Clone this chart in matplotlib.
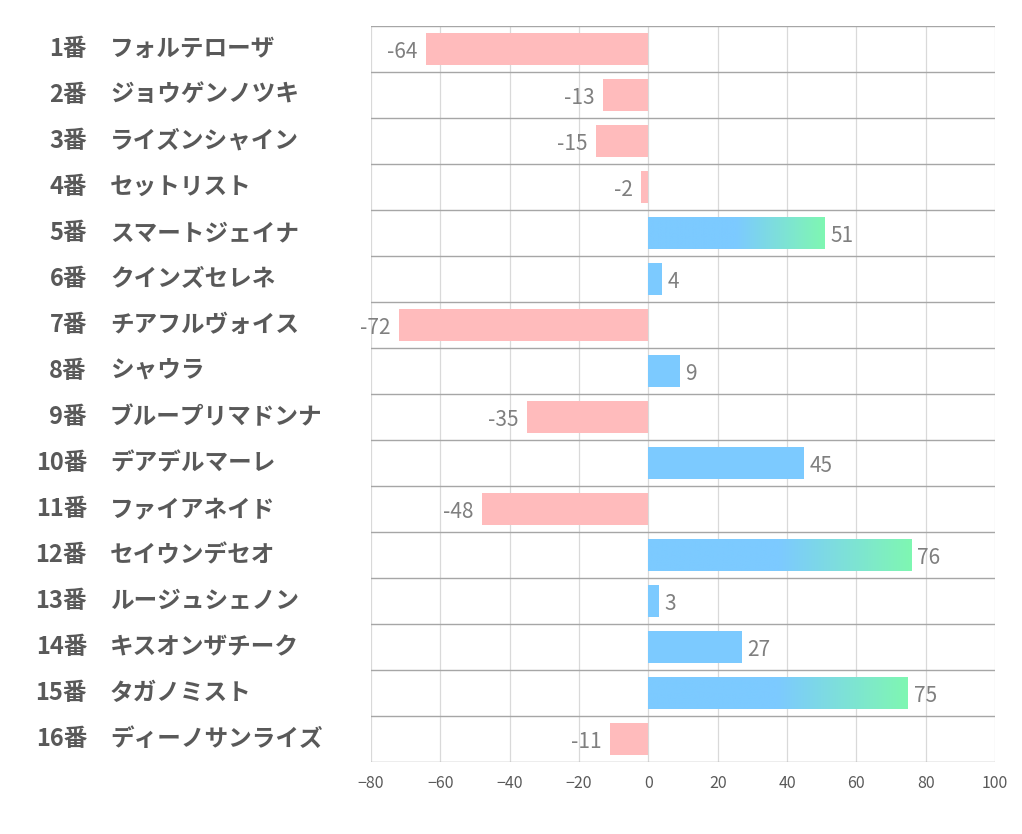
import matplotlib.pyplot as plt
import numpy as np
from matplotlib.colors import LinearSegmentedColormap

plt.rcParams['font.family'] = ['Noto Sans CJK JP', 'DejaVu Sans']

numbers = ['1番', '2番', '3番', '4番', '5番', '6番', '7番', '8番',
           '9番', '10番', '11番', '12番', '13番', '14番', '15番', '16番']
names = ['フォルテローザ', 'ジョウゲンノツキ', 'ライズンシャイン', 'セットリスト',
         'スマートジェイナ', 'クインズセレネ', 'チアフルヴォイス', 'シャウラ',
         'ブループリマドンナ', 'デアデルマーレ', 'ファイアネイド', 'セイウンデセオ',
         'ルージュシェノン', 'キスオンザチーク', 'タガノミスト', 'ディーノサンライズ']
values = [-64, -13, -15, -2, 51, 4, -72, 9, -35, 45, -48, 76, 3, 27, 75, -11]

blue = '#7ccaff'
green = '#7ff7b2'
pink = '#ffbbbc'
grad = LinearSegmentedColormap.from_list('bg', [(0, blue), (0.5, blue), (1, green)])

fig = plt.figure(figsize=(10.22, 8.34), dpi=100)
ax = fig.add_axes([371 / 1022, 1 - 762 / 834, 624 / 1022, 736 / 834])

n = len(values)
ys = np.arange(n)
h = 0.68
for y, v in zip(ys, values):
    if v < 0:
        ax.barh(y, v, height=h, color=pink, zorder=2)
        ax.text(v - 2.5, y + 0.06, str(v), ha='right', va='center',
                fontsize=15, color='#7f7f7f', zorder=3)
    else:
        if v >= 50:
            g = np.linspace(0, 1, 256).reshape(1, -1)
            ax.imshow(g, cmap=grad, extent=[0, v, y + h / 2, y - h / 2],
                      aspect='auto', zorder=2, interpolation='bilinear')
        else:
            ax.barh(y, v, height=h, color=blue, zorder=2)
        ax.text(v + 1.5, y + 0.06, str(v), ha='left', va='center',
                fontsize=15, color='#7f7f7f', zorder=3)

ax.set_xlim(-80, 100)
ax.set_ylim(n - 0.5, -0.5)
ax.set_xticks(range(-80, 101, 20))
ax.set_yticks([])
for x in range(-80, 101, 20):
    ax.axvline(x, color='#d9d9d9', lw=0.9, zorder=1)
for b in np.arange(-0.5, n, 1):
    ax.axhline(b, color='#a6a6a6', lw=1.0, zorder=1)
for s in ax.spines.values():
    s.set_visible(False)
ax.tick_params(axis='x', length=0, labelsize=11.5, labelcolor='#595959', pad=9)

for y, num, name in zip(ys, numbers, names):
    yy = 1 - (26 + 46 * (y + 0.5)) / 834
    fig.text(87 / 1022, yy, num, ha='right', va='center', fontsize=17,
             fontweight='bold', color='#595959')
    fig.text(110 / 1022, yy, name, ha='left', va='center', fontsize=17,
             fontweight='bold', color='#595959')

fig.savefig('out.png', dpi=100)
